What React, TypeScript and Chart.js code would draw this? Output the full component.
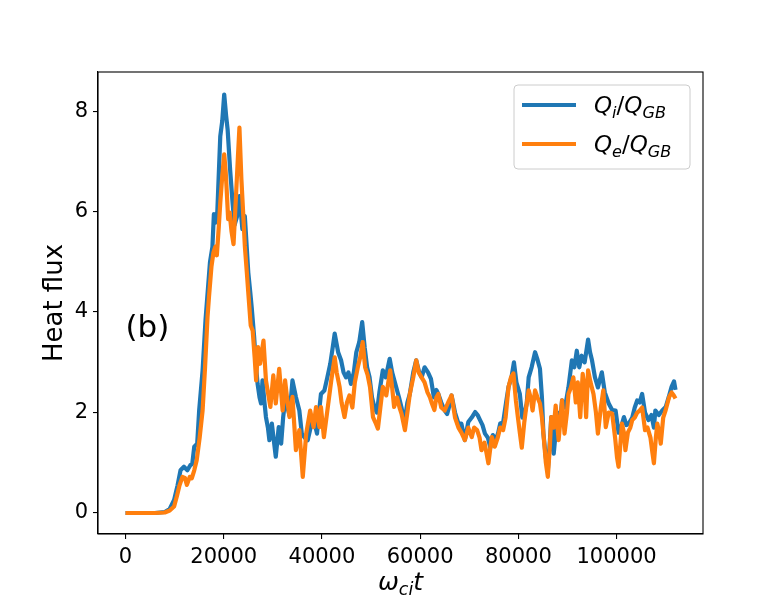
import React, { useEffect, useRef } from "react";
import Chart from "chart.js/auto";

// time samples (omega_ci t) and heat flux
const ionTime = [
  0, 2000, 4000, 6000, 8000, 9000, 9900, 10600, 11200, 11900,
  12600, 13200, 13600, 14000, 14600, 15000, 15700, 16300, 17200, 17700,
  18000, 18300, 18700, 19300, 19700, 20100, 20500, 20800, 21300, 21800,
  22200, 22700, 23200, 23800, 24300, 25000, 25400, 25700, 26200, 26600,
  26900, 27300, 27600, 27900, 28300, 28600, 29000, 29300, 29800, 30200,
  30600, 31200, 31700, 32100, 32500, 33000, 33400, 34000, 34700, 35400,
  35900, 36500, 37100, 37700, 38200, 38600, 39000, 39400, 39800, 40500,
  41100, 41700, 42200, 42600, 43300, 43900, 44400, 44900,
  45400, 45900, 46500, 47000, 47600, 48200, 48700, 49200, 49700, 50200,
  50700, 51200, 51700, 52400, 53000, 53800, 54300, 55100, 55700, 56200,
  56800, 57400, 57900, 58600, 59200, 59800, 60300, 60900, 61600, 62200,
  62800, 63300, 63700, 64300, 65000, 65500, 66000, 66400, 67100, 67800,
  68400, 69100, 69800, 70500, 71200, 71700, 72200, 72700, 73200, 73800,
  74300, 74800, 75400, 75900, 76300, 76900, 77500, 78000, 78600, 79100,
  79600, 80300, 80800, 81300, 81700, 82100, 82700, 83400, 83900, 84400,
  84800, 85100, 85600, 86000, 86400, 86700, 87200, 87600, 88000, 88500,
  88900, 89500, 90200, 90900, 91400, 91900, 92400, 92900, 93500, 94200,
  94600, 95000, 95600, 96200, 97000, 97600, 98400, 99100, 99800, 100400,
  100900, 101500, 102000, 102600, 103200, 103700, 104200, 104700, 105200, 105800,
  106500, 107100, 107600, 107900, 108600, 109300, 110000, 110600, 111200, 111700,
  112000,
];
const ionFlux = [
  0, 0, 0, 0, 0.02, 0.08, 0.26, 0.55, 0.85, 0.92,
  0.85, 0.95, 0.98, 1.32, 1.38, 2.04, 2.84, 3.85, 4.99, 5.3,
  5.95, 5.78, 6.0, 7.5, 7.8, 8.33, 7.9, 7.63, 6.84, 6.18,
  5.73, 5.9, 6.31, 5.65, 5.91, 4.79, 4.4, 4.09, 3.5, 2.9,
  2.57, 2.3, 2.18, 2.64, 2.2, 1.91, 1.7, 1.45, 1.78, 1.45,
  1.12, 1.71, 1.38, 1.9, 2.24, 2.1, 1.94, 2.64, 2.31, 2.04,
  1.58, 1.5, 1.45, 1.7, 1.91, 1.75, 1.58, 2.0, 2.37, 2.44,
  2.7, 2.97, 3.3, 3.57, 3.2, 3.04, 2.8, 2.7,
  2.8, 2.57, 2.8, 3.2, 3.4, 3.8, 3.3, 2.9, 2.7, 2.3,
  2.1, 2.0, 2.4, 2.84, 2.7, 3.07, 2.8, 2.51, 2.3, 2.1,
  1.8, 2.2, 2.37, 2.8, 3.04, 2.8, 2.7, 2.9, 2.8, 2.67,
  2.3, 2.45, 2.37, 2.2, 2.04, 1.97, 2.15, 2.34, 2.0, 1.78,
  1.78, 1.45, 1.81, 1.9, 2.01, 1.95, 1.85, 1.75, 1.58, 1.5,
  1.3, 1.55, 1.45, 1.6, 1.78, 1.8, 2.2, 2.51, 2.7, 3.0,
  2.6, 2.37, 1.9, 2.0, 2.18, 2.7, 2.9, 3.2, 3.05, 2.87,
  2.3, 1.58, 1.1, 0.85, 1.4, 1.91, 1.18, 1.6, 2.0, 1.8,
  2.24, 2.1, 2.5, 3.04, 2.9, 3.23, 2.9, 3.13, 3.0, 3.45,
  3.2, 3.04, 2.7, 2.5, 2.8, 2.4, 2.18, 2.05, 2.04, 1.6,
  1.7, 1.91, 1.75, 1.8, 1.9, 2.1, 2.24, 2.2, 2.37, 2.0,
  1.85, 1.95, 1.7, 2.04, 1.95, 2.04, 2.11, 2.3, 2.51, 2.62,
  2.45,
];

const elecTime = [
  0, 2000, 4000, 6000, 8000, 9000, 9900, 10500, 11000, 11600,
  12100, 12500, 13100, 13500, 14000, 14500, 15100, 15700, 16200, 16700,
  17000, 17500, 17900, 18300, 18600, 19000, 19300, 19700, 20100, 20400,
  20600, 20900, 21200, 21600, 22000, 22500, 22900, 23200, 23600, 24000,
  24300, 24700, 25000, 25500, 25900, 26300, 26600, 27000, 27400, 28100,
  28600, 29000, 29500, 30100, 30600, 31300, 32000, 32500, 33000, 33400,
  34000, 34700, 35400, 36100, 36800, 37600, 38300, 38800, 39500, 39800,
  40400, 41200, 41900, 42600, 43000, 43600, 44000, 44600, 45100, 45600, 46200, 46700,
  47300, 47800, 48300, 48800, 49300, 49800, 50400, 50900, 51400, 51900,
  52400, 53100, 53900, 54300, 54700, 55300, 55800, 56200, 56900, 57400,
  57900, 58600, 59200, 59700, 60300, 60900, 61500, 62000, 62400, 62900,
  63300, 63700, 64300, 65000, 65700, 66400, 67100, 67800, 68400, 69100,
  69800, 70500, 71000, 71600, 72100, 72500, 73100, 73500, 73900, 74300,
  74600, 75200, 75800, 76300, 76900, 77400, 78000, 78500, 79000, 79500,
  79900, 80300, 80700, 81200, 81700, 82100, 82500, 82900, 83400, 83900,
  84400, 84800, 85100, 85600, 86000, 86400, 86700, 87200, 87600, 88200,
  88900, 89400, 89900, 90200, 90700, 91200, 91700, 92100, 92600, 93100,
  93500, 93800, 94200, 94700, 95300, 95800, 96200, 96800, 97300, 97800,
  98400, 99100, 99700, 100100, 100400, 100800, 101100, 101500, 101800, 102300,
  102800, 103200, 103700, 104200, 104700, 105200, 105800, 106300, 106900, 107300,
  107600, 108000, 108300, 108700, 109000, 109500, 110000, 110700, 111200, 111600,
  112000,
];
const elecFlux = [
  0, 0, 0, 0, 0.01, 0.05, 0.13, 0.35, 0.55, 0.72,
  0.7, 0.56, 0.72, 0.69, 0.85, 1.05, 1.5, 2.04, 2.9, 3.9,
  4.3, 4.9, 5.18, 5.3, 5.13, 5.7, 6.18, 6.7, 7.14, 6.8,
  6.44, 5.85, 5.98, 5.6, 5.35, 6.31, 7.1, 7.67, 6.64, 5.9,
  5.32, 4.8, 4.39, 3.73, 3.63, 3.1, 2.64, 3.3, 2.97, 3.43,
  2.64, 2.4, 2.11, 2.74, 2.18, 2.87, 2.04, 2.64, 2.2, 1.91,
  2.31, 1.25, 1.65, 0.72, 1.58, 2.04, 1.71, 2.11, 1.71, 2.11,
  1.51, 2.11, 2.64, 3.1, 2.8, 2.51, 2.2, 1.91, 2.2, 2.34, 2.1, 2.6,
  2.9, 3.1, 3.4, 2.9, 2.75, 2.5, 1.91, 1.8, 1.68, 2.1,
  2.51, 2.34, 2.84, 2.5, 2.11, 2.3, 2.1, 1.98, 1.65, 2.0,
  2.37, 2.7, 3.04, 2.8, 2.7, 2.6, 2.4, 2.3, 2.18, 2.05,
  2.3, 2.37, 2.1, 2.04, 2.2, 2.34, 1.9, 1.7, 1.6, 1.45,
  1.7, 1.51, 1.7, 1.65, 1.5, 1.25, 1.4, 1.2, 0.99, 1.3,
  1.51, 1.32, 1.5, 1.7, 1.65, 1.9, 2.51, 2.7, 2.78, 2.24,
  1.91, 1.6, 1.3, 1.8, 2.18, 2.44, 2.3, 2.04, 2.44, 2.3,
  2.18, 1.9, 1.58, 1.0, 0.72, 1.3, 1.91, 1.7, 2.14, 1.45,
  2.24, 1.58, 2.0, 2.37, 2.5, 2.7, 2.2, 2.6, 1.91, 2.77,
  2.5, 1.91, 2.84, 2.6, 2.37, 2.0, 1.58, 2.1, 2.44, 1.71,
  2.0, 1.98, 1.5, 1.1, 0.92, 1.4, 1.78, 1.6, 1.25, 1.6,
  1.7, 1.85, 1.9, 2.0, 2.04, 2.1, 1.65, 1.7, 1.5, 1.2,
  0.99, 1.5, 1.78, 1.6, 1.38, 1.9, 2.05, 2.31, 2.4, 2.35,
  2.28,
];

const xTicks = [0, 20000, 40000, 60000, 80000, 100000];
const yTicks = [0, 2, 4, 6, 8];

type Piece = { t: string; it?: boolean; sub?: boolean };

const ionLabel: Piece[] = [
  { t: "Q", it: true }, { t: "i", it: true, sub: true }, { t: "/" },
  { t: "Q", it: true }, { t: "GB", it: true, sub: true },
];
const elecLabel: Piece[] = [
  { t: "Q", it: true }, { t: "e", it: true, sub: true }, { t: "/" },
  { t: "Q", it: true }, { t: "GB", it: true, sub: true },
];
const xTitle: Piece[] = [
  { t: "ω", it: true }, { t: "ci", it: true, sub: true }, { t: "t", it: true },
];
const yTitle = "Heat flux";
const panelTag = "(b)";

const BLUE = "#1f77b4";
const ORANGE = "#ff7f0e";
const FONT = "'DejaVu Sans', sans-serif";

function pieceFont(p: Piece, size: number) {
  const s = p.sub ? size * 0.7 : size;
  return `${p.it ? "italic " : ""}${s}px ${FONT}`;
}

function measureMath(ctx: CanvasRenderingContext2D, pieces: Piece[], size: number) {
  let w = 0;
  for (const p of pieces) {
    ctx.font = pieceFont(p, size);
    w += ctx.measureText(p.t).width;
  }
  return w;
}

function drawMath(ctx: CanvasRenderingContext2D, pieces: Piece[], x: number, y: number, size: number) {
  ctx.textAlign = "left";
  ctx.textBaseline = "alphabetic";
  let cx = x;
  for (const p of pieces) {
    ctx.font = pieceFont(p, size);
    ctx.fillText(p.t, cx, p.sub ? y + size * 0.2 : y);
    cx += ctx.measureText(p.t).width;
  }
}

const decor = {
  id: "decor",
  afterDraw(chart: any) {
    const { ctx, chartArea: a, scales } = chart;
    ctx.save();
    ctx.strokeStyle = "#000";
    ctx.lineWidth = 1.1;
    ctx.strokeRect(a.left, a.top, a.right - a.left, a.bottom - a.top);

    ctx.fillStyle = "#000";
    const w = measureMath(ctx, xTitle, 25);
    drawMath(ctx, xTitle, (a.left + a.right) / 2 - w / 2, 590, 25);

    ctx.font = `31px ${FONT}`;
    ctx.textAlign = "left";
    ctx.textBaseline = "alphabetic";
    ctx.fillText(panelTag, scales.x.getPixelForValue(0), scales.y.getPixelForValue(3.5));

    // legend
    const lx = a.right - 189, ly = a.top + 13, lw = 176, lh = 84;
    ctx.beginPath();
    ctx.roundRect(lx, ly, lw, lh, 4);
    ctx.fillStyle = "rgba(255,255,255,0.8)";
    ctx.fill();
    ctx.strokeStyle = "#cccccc";
    ctx.lineWidth = 1;
    ctx.stroke();
    const rows: [Piece[], string][] = [[ionLabel, BLUE], [elecLabel, ORANGE]];
    rows.forEach(([lab, col], i) => {
      const y = ly + 20 + i * 39;
      ctx.beginPath();
      ctx.moveTo(lx + 8, y);
      ctx.lineTo(lx + 62, y);
      ctx.strokeStyle = col;
      ctx.lineWidth = 4.2;
      ctx.stroke();
      ctx.fillStyle = "#000";
      drawMath(ctx, lab, lx + 80, y + 8, 23);
    });

    ctx.translate(62, (a.top + a.bottom) / 2);
    ctx.rotate(-Math.PI / 2);
    ctx.font = `26px ${FONT}`;
    ctx.textAlign = "center";
    ctx.textBaseline = "alphabetic";
    ctx.fillStyle = "#000";
    ctx.fillText(yTitle, 0, 0);
    ctx.restore();
  },
};

const App = () => {
  const canvasRef = useRef<HTMLCanvasElement>(null);

  useEffect(() => {
    document.body.style.margin = "0";
    const ctx = canvasRef.current!.getContext("2d")!;
    const axisCommon = {
      grid: { drawOnChartArea: false, drawTicks: true, tickLength: 5, color: "#000", lineWidth: 1.1 },
      border: { display: true, color: "#000", width: 1.1 },
    };
    const chart = new Chart(ctx, {
      type: "line",
      data: {
        datasets: [
          {
            label: "Qe/QGB",
            data: elecTime.map((t, i) => ({ x: t, y: elecFlux[i] })),
            borderColor: ORANGE,
            borderWidth: 4.2,
            pointRadius: 0,
            borderJoinStyle: "round",
            order: 1,
          },
          {
            label: "Qi/QGB",
            data: ionTime.map((t, i) => ({ x: t, y: ionFlux[i] })),
            borderColor: BLUE,
            borderWidth: 4.2,
            pointRadius: 0,
            borderJoinStyle: "round",
            order: 2,
          },
        ],
      },
      options: {
        animation: false,
        responsive: false,
        devicePixelRatio: 1,
        layout: { padding: { left: 0, right: 77, top: 72, bottom: 0 } },
        plugins: { legend: { display: false }, tooltip: { enabled: false } },
        scales: {
          x: {
            type: "linear",
            min: -5600,
            max: 117600,
            afterBuildTicks: (s: any) => {
              s.ticks = xTicks.map((v) => ({ value: v }));
            },
            afterFit: (s: any) => {
              s.height = 66;
            },
            ...axisCommon,
            ticks: {
              color: "#000",
              font: { family: FONT, size: 21 },
              padding: 6,
              maxRotation: 0,
              autoSkip: false,
              callback: (v: any) => String(v),
            },
          },
          y: {
            type: "linear",
            min: -0.418,
            max: 8.778,
            afterBuildTicks: (s: any) => {
              s.ticks = yTicks.map((v) => ({ value: v }));
            },
            afterFit: (s: any) => {
              s.width = 98;
            },
            ...axisCommon,
            ticks: {
              color: "#000",
              font: { family: FONT, size: 21 },
              padding: 5,
              autoSkip: false,
              callback: (v: any) => String(v),
            },
          },
        },
      },
      plugins: [decor],
    });

    return () => {
      chart.destroy();
    };
  }, []);

  return <canvas ref={canvasRef} width={780} height={600} style={{ display: "block" }} />;
};

export default App;
